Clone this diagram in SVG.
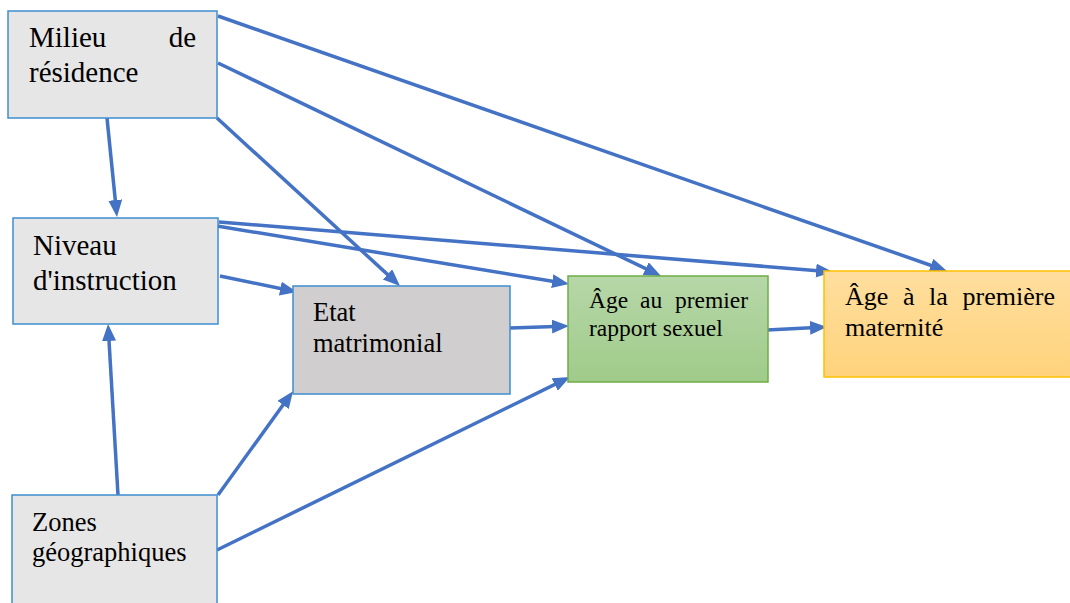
<svg xmlns="http://www.w3.org/2000/svg" width="1070" height="603" viewBox="0 0 1070 603">
<defs>
<linearGradient id="gGreen" x1="0" y1="0" x2="0" y2="1"><stop offset="0" stop-color="#B6D7A8"/><stop offset="1" stop-color="#A0CB8A"/></linearGradient>
<linearGradient id="gOrange" x1="0" y1="0" x2="0" y2="1"><stop offset="0" stop-color="#FFDE9E"/><stop offset="1" stop-color="#FFD37C"/></linearGradient>
<marker id="ah" markerUnits="userSpaceOnUse" markerWidth="18" markerHeight="16" refX="11" refY="7" orient="auto"><path d="M0,0 L17,7 L0,14 z" fill="#4472C4"/></marker>
<style>
.t{font-family:"Liberation Serif","Times New Roman",serif;fill:#000}
.grey{fill:#E6E6E6;stroke:#3E8ED0;stroke-width:1.5}
.etat{fill:#D0CECE;stroke:#3E8ED0;stroke-width:1.5}
.green{fill:url(#gGreen);stroke:#70AD47;stroke-width:1.5}
.orange{fill:url(#gOrange);stroke:#FFC000;stroke-width:1.5}
#connectors line{stroke:#4472C4;stroke-width:3.5;marker-end:url(#ah)}
</style>
</defs>
<rect width="1070" height="603" fill="#fff"/>
<g id="connectors">
<line x1="107" y1="118" x2="116.4" y2="211"/>
<line x1="217" y1="118" x2="395.6" y2="281.9"/>
<line x1="218" y1="63" x2="655.6" y2="273.4"/>
<line x1="218" y1="16" x2="941.3" y2="269"/>
<line x1="219" y1="222" x2="827" y2="271.5"/>
<line x1="217" y1="226" x2="563.1" y2="283"/>
<line x1="220" y1="276" x2="291.1" y2="290.8"/>
<line x1="510" y1="328" x2="563" y2="326.2"/>
<line x1="767" y1="330" x2="821" y2="327.3"/>
<line x1="118" y1="495" x2="108.4" y2="330"/>
<line x1="218" y1="495" x2="289.5" y2="396"/>
<line x1="217" y1="550" x2="564.6" y2="379.6"/>
</g>
<g id="milieu">
<rect class="grey" x="8" y="11" width="209" height="107"/>
<text class="t" x="29" y="47" font-size="29">Milieu</text>
<text class="t" x="196" y="47" font-size="29" text-anchor="end">de</text>
<text class="t" x="29" y="82" font-size="29">résidence</text>
</g>
<g id="niveau">
<rect class="grey" x="13" y="218" width="205" height="106"/>
<text class="t" x="33" y="255" font-size="29">Niveau</text>
<text class="t" x="33" y="290" font-size="29">d'instruction</text>
</g>
<g id="zones">
<rect class="grey" x="12" y="495" width="205" height="115"/>
<text class="t" x="32" y="531" font-size="26.5">Zones</text>
<text class="t" x="32" y="561" font-size="26.5">géographiques</text>
</g>
<g id="etat">
<rect class="etat" x="293" y="286" width="217" height="108"/>
<text class="t" x="313" y="321" font-size="26.5">Etat</text>
<text class="t" x="313" y="352" font-size="26.5">matrimonial</text>
</g>
<g id="agepremier">
<rect class="green" x="568" y="276" width="200" height="106"/>
<text class="t" x="589" y="308" font-size="23.5">Âge</text>
<text class="t" x="640" y="308" font-size="23.5">au</text>
<text class="t" x="748" y="308" font-size="23.5" text-anchor="end">premier</text>
<text class="t" x="589" y="336" font-size="23.5">rapport sexuel</text>
</g>
<g id="agepremiere">
<rect class="orange" x="824" y="271" width="250" height="106"/>
<text class="t" x="845" y="305" font-size="26">Âge</text>
<text class="t" x="903" y="305" font-size="26">à</text>
<text class="t" x="929" y="305" font-size="26">la</text>
<text class="t" x="1055" y="305" font-size="26" text-anchor="end">première</text>
<text class="t" x="845" y="336" font-size="26">maternité</text>
</g>
</svg>
